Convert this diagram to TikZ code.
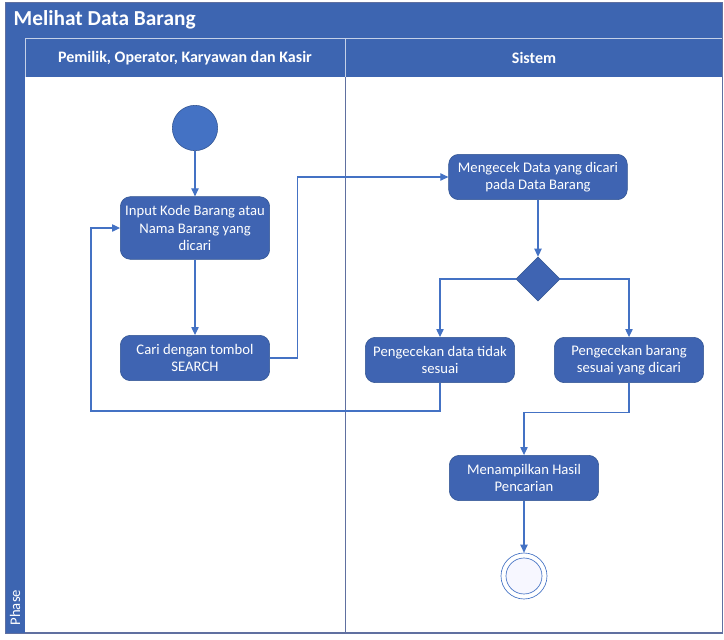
\documentclass[tikz,border=0pt]{standalone}
\usepackage{fontspec}
\setmainfont{Carlito}
\usepackage{tikz}
\usetikzlibrary{calc, positioning, arrows.meta, shapes.geometric}
\definecolor{lanebl}{RGB}{61,101,177}
\definecolor{actbl}{RGB}{63,100,178}
\definecolor{actedge}{RGB}{47,82,143}
\definecolor{flowbl}{RGB}{68,114,196}
\definecolor{laneline}{RGB}{96,112,160}

\begin{document}
\begin{tikzpicture}[x=0.75pt, y=-0.75pt,
    act/.style={draw=actedge, fill=actbl, rounded corners=7.5pt, text=white, align=center,
                minimum width=112pt, minimum height=34pt, font=\fontsize{11}{13}\selectfont},
    flow/.style={draw=flowbl, line width=0.8pt, -{Triangle[length=6pt, width=5.5pt]}},
    lanehead/.style={text=white, font=\fontsize{12}{14}\selectfont\bfseries}]
    \useasboundingbox (0,0) rectangle (724,639);
    % swimlane frame
    \fill[lanebl] (5,2) rectangle (722,38);
    \fill[lanebl] (5,38) rectangle (25,633);
    \fill[lanebl] (25,38) rectangle (722,77);
    \draw[laneline, line width=0.6pt] (5,2) rectangle (722,633);
    \draw[white!70!lanebl, line width=0.6pt] (25,38) -- (722,38);
    \draw[white!70!lanebl, line width=0.6pt] (25,38) -- (25,77) (345,38) -- (345,77);
    \draw[laneline, line width=0.6pt] (345,77) -- (345,633);
    \draw[laneline, line width=1.6pt] (25,633) -- (722,633);
    \node[anchor=west, text=white, font=\fontsize{16}{18}\selectfont\bfseries] (title) at (9,20) {Melihat Data Barang};
    \node[lanehead] (userlane) at (185,58) {Pemilik, Operator, Karyawan dan Kasir};
    \node[lanehead] (syslane) at (534,58) {Sistem};
    \node[rotate=90, anchor=west, text=white, font=\fontsize{11}{13}\selectfont] (phase) at (15,630) {Phase};

    % activities
    \node[circle, draw=actedge, fill=flowbl, minimum size=34pt, inner sep=0pt] (start) at (195,128) {};
    \node[act, minimum height=47pt] (input) at (195,228) {Input Kode Barang atau\\Nama Barang yang\\dicari};
    \node[act] (cari) at (195,358) {Cari dengan tombol\\SEARCH};
    \node[act, minimum width=134pt] (cek) at (538,177) {Mengecek Data yang dicari\\pada Data Barang};
    \node[diamond, draw=actedge, fill=actbl, minimum size=33pt, inner sep=0pt] (dec) at (538,279) {};
    \node[act] (tidak) at (440,360) {Pengecekan data tidak\\sesuai};
    \node[act] (sesuai) at (629,360) {Pengecekan barang\\sesuai yang dicari};
    \node[act] (hasil) at (524,478) {Menampilkan Hasil\\Pencarian};
    \node[circle, draw=flowbl, fill=white, minimum size=34.5pt, inner sep=0pt, line width=0.5pt] (end) at (524,576) {};
    \draw[flowbl, fill=blue!3, line width=0.5pt] (end.center) circle (13.5pt);

    % flows
    \coordinate (back) at (91,411);
    \draw[flow] (start) -- (input);
    \draw[flow] (input) -- (cari);
    \draw[flow] (cari.east) -- ++(28,0) |- (cek.west);
    \draw[flow] (cek) -- (dec);
    \draw[flow] (dec.west) -| (tidak.north);
    \draw[flow] (dec.east) -| (sesuai.north);
    \draw[flow] (tidak.south) |- (back) |- (input.west);
    \draw[flow] (sesuai.south) -- ++(0,30) -| (hasil.north);
    \draw[flow] (hasil) -- (end);
\end{tikzpicture}
\end{document}
